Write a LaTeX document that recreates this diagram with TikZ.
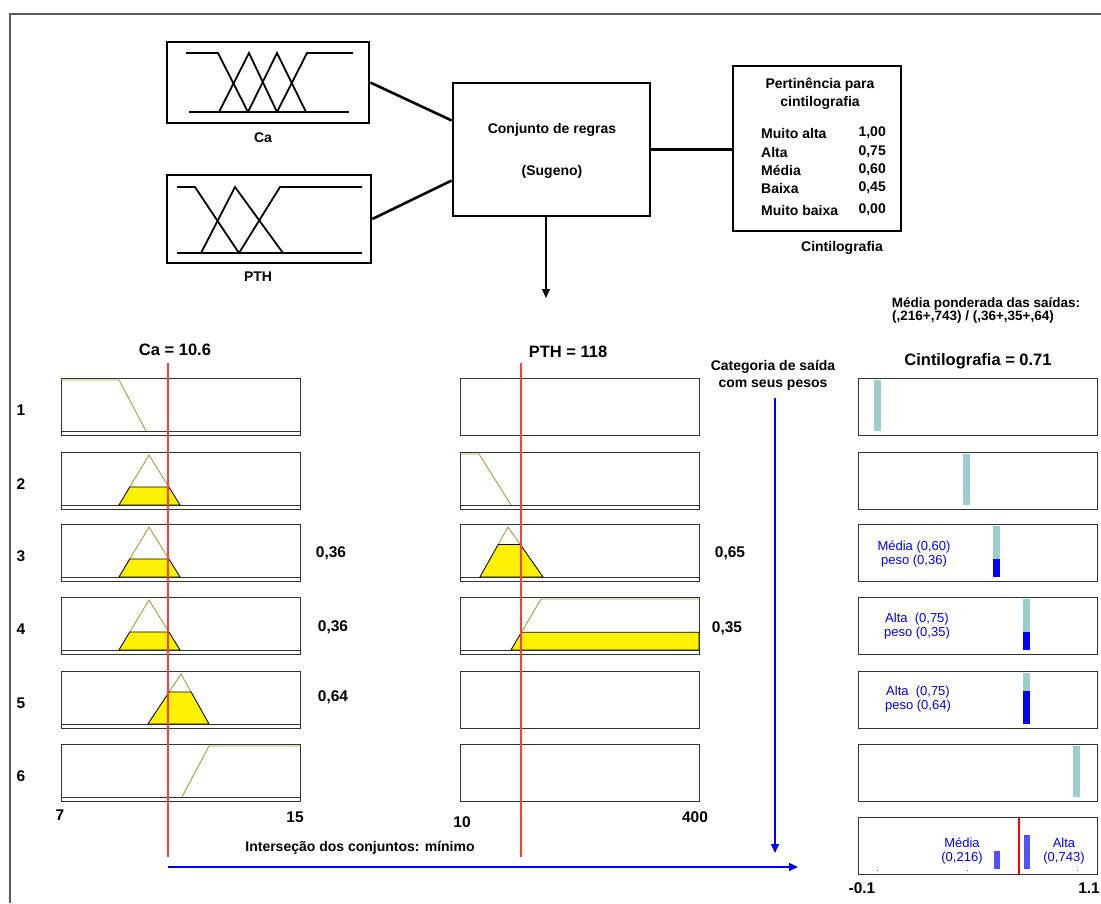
\documentclass[tikz,border=0pt]{standalone}
\usepackage{fontspec}
\setmainfont{Liberation Sans}
\usetikzlibrary{calc,arrows.meta}
\definecolor{mfcol}{RGB}{160,160,60}
\definecolor{barteal}{RGB}{155,205,205}
\definecolor{redl}{RGB}{255,60,60}
\definecolor{blu}{RGB}{0,0,255}
\definecolor{blu2}{RGB}{80,80,255}
\definecolor{framec}{RGB}{90,90,90}
\newcommand{\fs}[1]{\fontsize{#1}{#1}\selectfont}
% triangle MF with yellow cut: xl xp xr T frac
\newcommand{\trimf}[5]{%
  \draw[mf] (#1,#4+53) -- (#2,#4+3) -- (#3,#4+53);
  \filldraw[cutfill] (#1,#4+53) -- ($(#1,#4+53)!#5!(#2,#4+3)$) -- ($(#3,#4+53)!#5!(#2,#4+3)$) -- (#3,#4+53) -- cycle;}
\newcommand{\basel}[2]{\draw[base] (#1,#2+53) -- (#1+239,#2+53);}
\begin{document}
\begin{tikzpicture}[x=1pt,y=-1pt,
  bigbox/.style={draw, line width=2.6pt, inner sep=0pt},
  conn/.style={line width=2.6pt},
  pbox/.style={draw=black!80, line width=1.1pt, minimum width=239pt, minimum height=57pt, anchor=north west, inner sep=0pt},
  mf/.style={draw=mfcol, line width=0.9pt},
  cutfill/.style={fill=yellow, draw=black, line width=0.8pt},
  base/.style={draw=black!80, line width=0.9pt},
  tmf/.style={line width=1.8pt},
  bl/.style={font=\bfseries\fs{14}, inner sep=0pt},
  big/.style={font=\bfseries\fs{16.5}, inner sep=0pt},
  num/.style={font=\bfseries\fs{15.5}, inner sep=0pt},
  btxt/.style={font=\fs{13}, text=blu, inner sep=0pt, align=center},
  redline/.style={draw=redl, line width=1.2pt},
  bluearr/.style={draw=blu, line width=1.6pt, -{Triangle[length=9pt,width=8pt]}},
  tick/.style={fill=blu2}
]
\useasboundingbox (0,0) rectangle (1101,903);
\fill[white] (0,0) rectangle (1101,903);
\draw[framec, line width=1.3pt] (10,903) -- (10,14) -- (1101,14);

% ---------- top diagram ----------
\node[bigbox, minimum width=202pt, minimum height=81pt] (ca) at (268,82.5) {};
\draw[tmf] (186,53) -- (218,53) -- (248,112);
\draw[tmf] (219,112) -- (249,53) -- (277,112);
\draw[tmf] (248,112) -- (277,53) -- (306,112);
\draw[tmf] (277,112) -- (307,53) -- (353,53);
\draw[tmf] (189,112) -- (349,112);
\node[bl] (calbl) at (263,138) {Ca};

\node[bigbox, minimum width=204pt, minimum height=88pt] (pth) at (269,219) {};
\draw[tmf] (177,187) -- (195,187) -- (239,253);
\draw[tmf] (201,253) -- (235,187) -- (283,253);
\draw[tmf] (239,253) -- (280,187) -- (362,187);
\draw[tmf] (177,253) -- (362,253);
\node[bl] (pthlbl) at (258,277) {PTH};

\node[bigbox, minimum width=197pt, minimum height=133pt] (rules) at (551.5,149.5) {};
\node[bl] (rt1) at (552,130) {Conjunto de regras};
\node[bl] (rt2) at (552,172) {(Sugeno)};

\node[bigbox, minimum width=168pt, minimum height=165pt] (outb) at (817,148.5) {};
\node[bl] (ot1) at (820,85) {Pertinência para};
\node[bl] (ot2) at (820,103) {cintilografia};
\node[bl, anchor=west] (i1) at (761,133) {Muito alta};
\node[bl, anchor=west] (i2) at (761,152) {Alta};
\node[bl, anchor=west] (i3) at (761,170) {Média};
\node[bl, anchor=west] (i4) at (761,188) {Baixa};
\node[bl, anchor=west] (i5) at (761,210) {Muito baixa};
\node[bl, anchor=east] (v1) at (886,133) {1,00};
\node[bl, anchor=east] (v2) at (886,152) {0,75};
\node[bl, anchor=east] (v3) at (886,170) {0,60};
\node[bl, anchor=east] (v4) at (886,188) {0,45};
\node[bl, anchor=east] (v5) at (886,210) {0,00};
\node[bl] (olbl) at (842,248) {Cintilografia};

\draw[conn] (ca.east) -- ($(rules.west)+(0,-29)$);
\draw[conn] (pth.east) -- ($(rules.west)+(0,31)$);
\draw[conn] (rules.east) -- (rules.east -| outb.west);
\coordinate (arrtip) at (546,298);
\draw[line width=1.3pt, -{Triangle[length=9pt,width=8pt]}] (rules.south -| arrtip) -- (arrtip);

% ---------- headings ----------
\node[font=\bfseries\fs{13.5}, inner sep=0pt] (mp1) at (986,304) {Média ponderada das saídas:};
\node[font=\bfseries\fs{13.5}, inner sep=0pt] (mp2) at (973,317) {(,216+,743) / (,36+,35+,64)};
\node[big] (cinth) at (978,361) {Cintilografia = 0.71};
\node[big] (cah) at (175,350) {Ca = 10.6};
\node[big] (pthh) at (568,352) {PTH = 118};
\node[bl] (cat1) at (773,367) {Categoria de saída};
\node[bl] (cat2) at (773,385) {com seus pesos};

% ---------- plot boxes ----------
\foreach \i/\t in {1/378,2/452,3/524,4/597,5/671,6/744}{
  \node[pbox] (L\i) at (61,\t) {};
  \node[pbox] (M\i) at (460,\t) {};
  \node[num] (n\i) at (21,\t+32) {\i};
}
\foreach \i/\t in {1/378,2/452,3/524,4/597,5/671,6/744,7/817}{
  \node[pbox] (R\i) at (858,\t) {};
}
% baselines (double bottom line)
\basel{61}{378}\basel{61}{452}\basel{61}{524}\basel{61}{597}\basel{61}{671}\basel{61}{744}
\basel{460}{452}\basel{460}{524}\basel{460}{597}

% left column MFs (Ca)
\draw[mf] (61,380) -- (119,380) -- (146,431);
\trimf{119}{149}{180}{452}{0.36}
\trimf{119}{149}{180}{524}{0.36}
\trimf{119}{149}{180}{597}{0.36}
\trimf{148}{181}{209}{671}{0.64}
\draw[mf] (182,797) -- (209,746) -- (300,746);

% middle column MFs (PTH)
\draw[mf] (460,454) -- (479,454) -- (511,505);
\trimf{480}{508}{543}{524}{0.65}
\draw[mf] (511,650) -- (541,599) -- (699,599);
\filldraw[cutfill] (511,650) -- (521.5,632.15) -- (699,632.15) -- (699,650) -- cycle;

% red input lines
\draw[redline] (168,363) -- (168,857);
\draw[redline] (521,363) -- (521,857);

% values
\node[num] (w3a) at (331,553) {0,36};
\node[num] (w4a) at (333,627) {0,36};
\node[num] (w5a) at (333,697) {0,64};
\node[num] (w3b) at (730,553) {0,65};
\node[num] (w4b) at (727,628) {0,35};

% right column bars
\fill[barteal] (873.5,380) rectangle (880.5,431);
\fill[barteal] (963,454) rectangle (970,505);
\fill[barteal] (993,526) rectangle (1000,577);
\fill[blu] (993,558.6) rectangle (1000,577);
\fill[barteal] (1023,599) rectangle (1030,650);
\fill[blu] (1023,632.1) rectangle (1030,650);
\fill[barteal] (1023,673) rectangle (1030,724);
\fill[blu] (1023,691.4) rectangle (1030,724);
\fill[barteal] (1073,746) rectangle (1080,797);
\node[btxt] (t3) at (914,554) {Média (0,60)\\[1pt]peso (0,36)};
\node[btxt] (t4) at (917,626) {Alta\ \ (0,75)\\[1pt]peso (0,35)};
\node[btxt] (t5) at (918,699) {Alta\ \ (0,75)\\[1pt]peso (0,64)};

% aggregated row
\fill[blu2] (994,851) rectangle (1000,869);
\fill[blu2] (1024,835) rectangle (1030,869);
\draw[draw=red, line width=2.2pt] (1019,817) -- (1019,874);
\fill[tick] (877,870) rectangle (878,871);
\fill[tick] (966.5,870) rectangle (967.5,871);
\fill[tick] (1076.5,870) rectangle (1077.5,871);
\node[btxt] (t7a) at (962,851) {Média\\[1pt](0,216)};
\node[btxt] (t7b) at (1064,851) {Alta\\[1pt](0,743)};

% axes labels
\node[num] (ax1) at (60,815) {7};
\node[num] (ax2) at (295,817) {15};
\node[num] (ax3) at (462,822) {10};
\node[num] (ax4) at (695,817) {400};
\node[num] (ax5) at (862,888) {-0.1};
\node[num, anchor=east] (ax6) at (1100,888) {1.1};

% blue arrows
\coordinate (catstart) at (775,398);
\coordinate (cattip) at (775,853);
\draw[bluearr] (catstart) -- (cattip);
\coordinate (hstart) at (168,867);
\coordinate (htip) at (798,867);
\draw[bluearr] (hstart) -- (htip);
\node[bl] (inter) at (360,848) {Interseção dos conjuntos: mínimo};
\end{tikzpicture}
\end{document}
